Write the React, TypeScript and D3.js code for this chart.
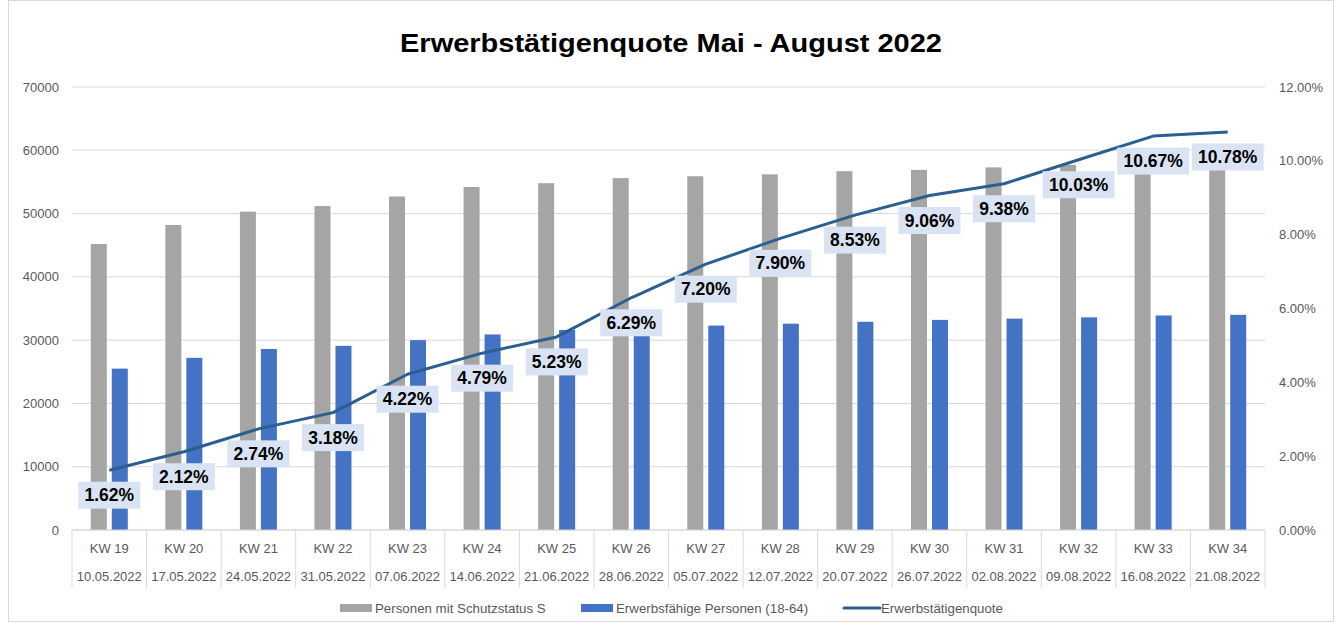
import React from "react";
import * as d3 from "d3";

const weeks = ["KW 19","KW 20","KW 21","KW 22","KW 23","KW 24","KW 25","KW 26","KW 27","KW 28","KW 29","KW 30","KW 31","KW 32","KW 33","KW 34"];
const dates = ["10.05.2022","17.05.2022","24.05.2022","31.05.2022","07.06.2022","14.06.2022","21.06.2022","28.06.2022","05.07.2022","12.07.2022","20.07.2022","26.07.2022","02.08.2022","09.08.2022","16.08.2022","21.08.2022"];
const schutzstatus = [45200,48200,50300,51200,52700,54200,54800,55600,55900,56200,56700,56900,57300,57700,58100,58400];
const erwerbsfaehig = [25500,27200,28600,29100,30000,30900,31600,31900,32300,32600,32900,33200,33400,33600,33900,34000];
const quote = [1.62,2.12,2.74,3.18,4.22,4.79,5.23,6.29,7.20,7.90,8.53,9.06,9.38,10.03,10.67,10.78];
const leftTicks = [0,10000,20000,30000,40000,50000,60000,70000];
const rightTicks = [0,2,4,6,8,10,12];

const W = 1339, H = 625;
const plotL = 72, plotR = 1265, plotT = 87, plotB = 530;
const FONT = "'Liberation Sans', Arial, sans-serif";
const GREY = "#a5a5a5", BLUE = "#4472c4", LINE = "#2a5f90", GRID = "#d9d9d9", AXT = "#595959";

export default function App() {
  const x = d3.scaleBand<string>().domain(weeks).range([plotL, plotR]).padding(0);
  const yL = d3.scaleLinear().domain([0, 70000]).range([plotB, plotT]);
  const yR = d3.scaleLinear().domain([0, 12]).range([plotB, plotT]);
  const cx = (i: number) => (x(weeks[i]) as number) + x.bandwidth() / 2;
  const barW = 16, gap = 5;
  const line = d3.line<number>().x((_, i) => cx(i)).y((d) => yR(d));
  const fmtPct = (v: number) => v.toFixed(2) + "%";

  return (
    <div style={{ position: "fixed", left: 0, top: 0 }}>
      <svg width={W} height={H} style={{ display: "block", background: "#fff" }} fontFamily={FONT}>
        <rect x={8.5} y={0.5} width={1325} height={621} fill="#fff" stroke={GRID} />
        <text x={671} y={52} textAnchor="middle" fontSize={26} fontWeight="bold" fill="#000" textLength={542} lengthAdjust="spacingAndGlyphs">
          Erwerbstätigenquote Mai - August 2022
        </text>
        {leftTicks.map((t) => (
          <g key={"l" + t}>
            <line x1={plotL} x2={plotR} y1={yL(t)} y2={yL(t)} stroke={GRID} strokeWidth={1} />
            <text x={59} y={yL(t) + 4.5} textAnchor="end" fontSize={13} fill={AXT}>{t}</text>
          </g>
        ))}
        {rightTicks.map((t) => (
          <text key={"r" + t} x={1279} y={yR(t) + 4.5} textAnchor="start" fontSize={13} fill={AXT}>{t.toFixed(2) + "%"}</text>
        ))}
        {weeks.map((w, i) => (
          <g key={w}>
            <rect x={cx(i) - gap / 2 - barW} y={yL(schutzstatus[i])} width={barW} height={plotB - yL(schutzstatus[i])} fill={GREY} />
            <rect x={cx(i) + gap / 2} y={yL(erwerbsfaehig[i])} width={barW} height={plotB - yL(erwerbsfaehig[i])} fill={BLUE} />
          </g>
        ))}
        {d3.range(weeks.length + 1).map((i) => {
          const xx = plotL + i * x.bandwidth();
          return <line key={"v" + i} x1={xx} x2={xx} y1={plotB} y2={588} stroke={GRID} />;
        })}
        <line x1={plotL} x2={plotR} y1={plotB} y2={plotB} stroke={GRID} />
        {weeks.map((w, i) => (
          <g key={"t" + w}>
            <text x={cx(i)} y={553} textAnchor="middle" fontSize={13} fill={AXT}>{w}</text>
            <text x={cx(i)} y={581} textAnchor="middle" fontSize={13} fill={AXT}>{dates[i]}</text>
          </g>
        ))}
        <path d={line(quote) as string} fill="none" stroke={LINE} strokeWidth={3} strokeLinejoin="round" />
        {quote.map((q, i) => {
          const label = fmtPct(q);
          const tw = label.length * 9.8 + 1;
          const bw = tw + 12;
          const yc = yR(q) + 25;
          return (
            <g key={"q" + i}>
              <rect x={cx(i) - bw / 2} y={yc - 13.5} width={bw} height={27} fill="#dae3f3" />
              <text x={cx(i)} y={yc + 6} textAnchor="middle" fontSize={17.5} fontWeight="bold" fill="#000">{label}</text>
            </g>
          );
        })}
        <rect x={340} y={604} width={32} height={8} fill={GREY} />
        <text x={375} y={612.5} fontSize={13.3} fill={AXT}>Personen mit Schutzstatus S</text>
        <rect x={581} y={604} width={32} height={8} fill={BLUE} />
        <text x={616} y={612.5} fontSize={13.3} fill={AXT}>Erwerbsfähige Personen (18-64)</text>
        <line x1={844} x2={880} y1={608} y2={608} stroke={LINE} strokeWidth={3} strokeLinecap="round" />
        <text x={881} y={612.5} fontSize={13.3} fill={AXT}>Erwerbstätigenquote</text>
      </svg>
    </div>
  );
}
